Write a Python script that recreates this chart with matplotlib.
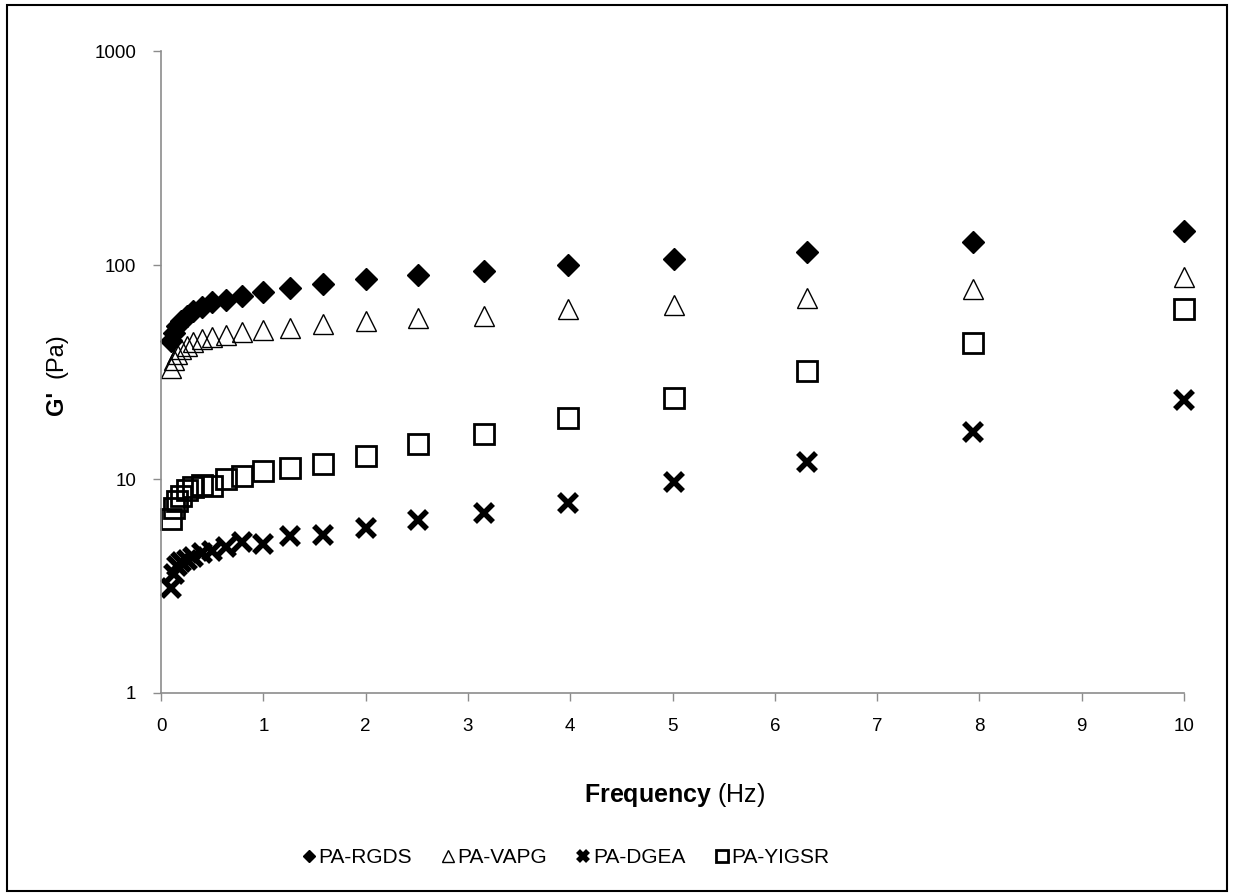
import matplotlib
matplotlib.use("Agg")
import matplotlib.pyplot as plt
from matplotlib.patches import Rectangle
from matplotlib.ticker import FixedLocator, NullLocator, FuncFormatter

plt.rcParams["font.family"] = ["Liberation Sans", "DejaVu Sans"]
plt.rcParams["mathtext.fontset"] = "custom"
plt.rcParams["mathtext.rm"] = "Liberation Sans"
plt.rcParams["mathtext.bf"] = "Liberation Sans:bold"

# frequency sweep (Hz)
freq = [0.1, 0.126, 0.158, 0.2, 0.251, 0.316, 0.398, 0.501, 0.631, 0.794,
        1.0, 1.26, 1.58, 2.0, 2.51, 3.16, 3.98, 5.01, 6.31, 7.94, 10.0]

# storage modulus G' (Pa)
rgds = [44, 48, 52, 55, 58, 61, 64, 67, 69, 72,
        75, 78, 81.5, 86, 90, 94, 100, 107, 115, 128, 144]
vapg = [33, 36, 38.5, 40.5, 42, 43.5, 45, 46, 47, 48.5,
        49.7, 51, 53, 55, 56.5, 58, 62, 65, 70, 77, 88]
dgea = [3.1, 3.6, 3.9, 4.1, 4.2, 4.3, 4.5, 4.6, 4.8, 5.1,
        4.95, 5.4, 5.5, 5.9, 6.4, 6.9, 7.7, 9.7, 12.0, 16.6, 23.4]
yigsr = [6.5, 7.3, 7.9, 8.3, 8.9, 9.2, 9.4, 9.3, 10.0, 10.3,
         10.9, 11.2, 11.7, 12.8, 14.6, 16.2, 19.3, 24.0, 32.0, 43.0, 62.0]

fig = plt.figure(figsize=(12.34, 8.96), dpi=100)
ax = fig.add_axes([0.1305, 0.2266, 0.829, 0.7164])

ax.plot(freq, rgds, linestyle="none", marker="D", markersize=11,
        color="black", label="PA-RGDS", clip_on=False)
ax.plot(freq, vapg, linestyle="none", marker="^", markersize=15,
        markerfacecolor="none", markeredgecolor="black", markeredgewidth=1.0,
        label="PA-VAPG", clip_on=False)
ax.plot(freq, dgea, linestyle="none", marker="x", markersize=13,
        color="black", markeredgewidth=4, label="PA-DGEA", clip_on=False)
ax.plot(freq, yigsr, linestyle="none", marker="s", markersize=15,
        markerfacecolor="none", markeredgecolor="black", markeredgewidth=2,
        label="PA-YIGSR", clip_on=False)

ax.set_yscale("log")
ax.set_ylim(1, 1000)
ax.set_xlim(0, 10)
ax.xaxis.set_major_locator(FixedLocator(range(0, 11)))
ax.yaxis.set_major_locator(FixedLocator([1, 10, 100, 1000]))
ax.yaxis.set_minor_locator(NullLocator())
ax.yaxis.set_major_formatter(FuncFormatter(lambda v, p: f"{v:g}"))

for s in ["top", "right"]:
    ax.spines[s].set_visible(False)
for s in ["left", "bottom"]:
    ax.spines[s].set_color("#8c8c8c")
    ax.spines[s].set_linewidth(1.2)
ax.tick_params(axis="both", direction="out", length=6, width=1,
               color="#8c8c8c", labelsize=13.5, pad=12)

# axis titles (bold part + plain units)
fig.text(0.547, 0.1127, r"$\bf{Frequency}$ (Hz)", fontsize=18,
         ha="center", va="center")
fig.text(0.046, 0.550, "G'", fontsize=17, fontweight="bold",
         rotation=90, ha="center", va="center")
fig.text(0.046, 0.603, "(Pa)", fontsize=17,
         rotation=90, ha="center", va="center")

handles, labels = ax.get_legend_handles_labels()
fig.legend(handles, labels, loc="center", bbox_to_anchor=(0.458, 0.0425), ncol=4,
           frameon=False, fontsize=15, markerscale=0.6,
           handlelength=0.7, handletextpad=0.1, columnspacing=1.4)

fig.patches.append(Rectangle((0.006, 0.006), 0.988, 0.988, transform=fig.transFigure,
                             fill=False, edgecolor="black", linewidth=1.5))

fig.savefig("out.png", dpi=100)
